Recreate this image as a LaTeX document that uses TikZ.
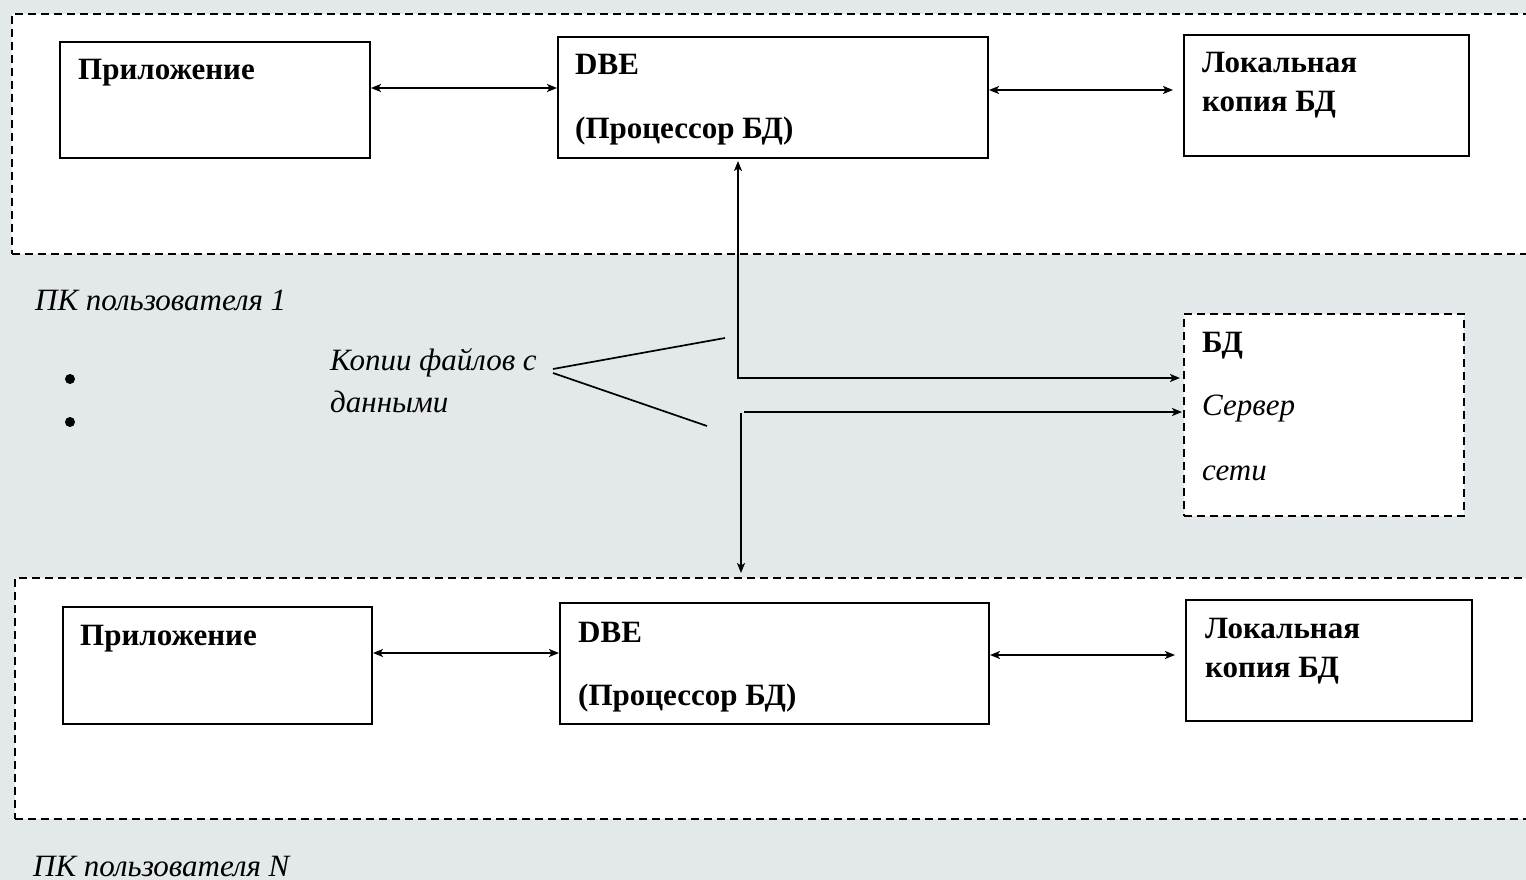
\documentclass[tikz,border=0pt]{standalone}
\usepackage{fontspec}
\setmainfont{Liberation Serif}
\usetikzlibrary{arrows.meta}
\definecolor{bg}{RGB}{227,232,235}
\begin{document}
\begin{tikzpicture}[x=1pt,y=-1pt,
  box/.style={draw, line width=2pt, fill=white, inner sep=0, anchor=north west},
  region/.style={draw, dash pattern=on 8pt off 5pt, line width=1.7pt, fill=white, inner sep=0, anchor=north west},
  lbl/.style={anchor=base west, inner sep=0, font=\fontsize{31}{37}\selectfont\bfseries},
  ilbl/.style={anchor=base west, inner sep=0, font=\fontsize{31}{37}\selectfont\itshape},
  tip/.tip={Stealth[length=10pt,width=8pt,inset=2.5pt]},
  arr/.style={line width=1.7pt, -tip},
  biarr/.style={line width=1.7pt, tip-tip},
  plain/.style={line width=1.7pt},
  dot/.style={circle, fill=black, inner sep=0, minimum size=10pt}]
\useasboundingbox (0,0) rectangle (1526,880);
\clip (0,0) rectangle (1526,880);
\fill[bg] (0,0) rectangle (1526,880);

% regions
\node[region, minimum width=1530pt, minimum height=240pt] (reg1) at (11,13) {};
\node[region, minimum width=1530pt, minimum height=241pt] (reg2) at (14,577) {};
\node[region, minimum width=280pt, minimum height=202pt] (srv) at (1183,313) {};

% top boxes
\node[box, minimum width=310pt, minimum height=116pt] (app1) at (59,41) {};
\node[box, minimum width=430pt, minimum height=121pt] (dbe1) at (557,36) {};
\node[box, minimum width=285pt, minimum height=121pt] (loc1) at (1183,34) {};
% bottom boxes
\node[box, minimum width=309pt, minimum height=117pt] (app2) at (62,606) {};
\node[box, minimum width=429pt, minimum height=121pt] (dbe2) at (559,602) {};
\node[box, minimum width=286pt, minimum height=121pt] (loc2) at (1185,599) {};

% texts
\node[lbl] (tapp1) at (78,80) {Приложение};
\node[lbl] (tdbe1) at (575,75) {DBE};
\node[lbl] (tproc1) at (575,139) {(Процессор БД)};
\node[lbl] (tloc1a) at (1202,73) {Локальная};
\node[lbl] (tloc1b) at (1202,112) {копия БД};

\node[lbl] (tapp2) at (80,645) {Приложение};
\node[lbl] (tdbe2) at (578,642) {DBE};
\node[lbl] (tproc2) at (578,705) {(Процессор БД)};
\node[lbl] (tloc2a) at (1205,638) {Локальная};
\node[lbl] (tloc2b) at (1205,677) {копия БД};

\node[lbl] (tsrv1) at (1202,352) {БД};
\node[ilbl] (tsrv2) at (1202,415) {Сервер};
\node[ilbl] (tsrv3) at (1202,480) {сети};

\node[ilbl] (pc1) at (35,310) {ПК пользователя 1};
\node[ilbl] (pcn) at (33,876) {ПК пользователя N};
\node[ilbl] (cop1) at (330,370) {Копии файлов с};
\node[ilbl] (cop2) at (330,412) {данными};

\node[dot] (d1) at (70,379) {};
\node[dot] (d2) at (70,422) {};

% connectors in user boxes
\draw[biarr] (app1.east |- 0,88) -- (dbe1.west |- 0,88);
\draw[biarr, shorten >=10pt] (dbe1.east |- 0,90) -- (loc1.west |- 0,90);
\draw[biarr] (app2.east |- 0,653) -- (dbe2.west |- 0,653);
\draw[biarr, shorten >=10pt] (dbe2.east |- 0,655) -- (loc2.west |- 0,655);

% network connectors
\coordinate (c1) at (738,378);
\draw[biarr, shorten <=2pt, shorten >=3pt] (dbe1.south -| c1) -- (c1) -- (srv.west |- c1);
\coordinate (c2) at (744,412);
\draw[arr, shorten >=1pt] (c2) -- (srv.west |- c2);
\coordinate (c3) at (741,413);
\draw[arr, shorten >=4pt] (c3) -- (reg2.north -| c3);

% brace lines
\coordinate (k1) at (553,369);
\coordinate (k2) at (725,338);
\coordinate (k3) at (553,373);
\coordinate (k4) at (707,426);
\draw[plain] (k1) -- (k2);
\draw[plain] (k3) -- (k4);
\end{tikzpicture}
\end{document}
